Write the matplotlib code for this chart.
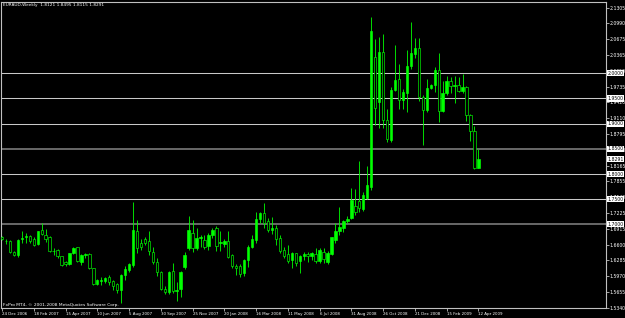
import numpy as np
import matplotlib.pyplot as plt
from matplotlib.patches import Rectangle

# weekly EURAUD bars, first bar = week of 24 Dec 2006
opens = [1.6740, 1.6680, 1.6680, 1.6460, 1.6400, 1.6700, 1.6750, 1.6760, 1.6705, 1.6610,
         1.6880, 1.6790, 1.6740, 1.6480, 1.6500, 1.6370, 1.6250, 1.6215, 1.6430, 1.6545,
         1.6245, 1.6395, 1.6420, 1.6130, 1.5815, 1.5885, 1.5870, 1.5950, 1.5880, 1.5810,
         1.5690, 1.6000, 1.6100, 1.6200, 1.6860, 1.6630, 1.6705, 1.6675, 1.6460, 1.6260,
         1.6060, 1.5710, 1.5650, 1.6080, 1.5680, 1.5720, 1.6150, 1.6530, 1.6825, 1.6530,
         1.6725, 1.6690, 1.6570, 1.6780, 1.6935, 1.6640, 1.6610, 1.6680, 1.6390, 1.6170,
         1.6175, 1.6030, 1.6295, 1.6560, 1.6695, 1.7105, 1.7220, 1.7070, 1.6880, 1.6935,
         1.6720, 1.6490, 1.6410, 1.6295, 1.6425, 1.6265, 1.6370, 1.6410, 1.6370, 1.6415,
         1.6280, 1.6450, 1.6250, 1.6410, 1.6695, 1.6870, 1.6930, 1.7065, 1.7120, 1.7370,
         1.7465, 1.7310, 1.7520, 1.7735, 2.0330, 1.9435, 2.0415, 1.9075, 1.8680, 1.9670,
         1.9880, 1.9460, 1.9615, 2.0145, 2.0390, 2.0495, 1.9520, 1.9275, 1.9715, 1.9770,
         2.0065, 1.9255, 1.9615, 1.9855, 1.9755, 1.9765, 1.9655, 1.9735, 1.9170, 1.8860,
         1.8121]
highs = [1.6770, 1.6700, 1.6690, 1.6480, 1.6700, 1.6860, 1.6830, 1.6790, 1.6740, 1.6870,
         1.7030, 1.6905, 1.6760, 1.6530, 1.6510, 1.6380, 1.6280, 1.6440, 1.6560, 1.6560,
         1.6420, 1.6440, 1.6440, 1.6140, 1.5920, 1.5950, 1.5960, 1.5990, 1.5900, 1.5840,
         1.6010, 1.6170, 1.6230, 1.7450, 1.7090, 1.6700, 1.6740, 1.6860, 1.6550, 1.6330,
         1.6070, 1.5780, 1.6070, 1.6230, 1.5860, 1.6070, 1.6450, 1.7160, 1.7090, 1.6920,
         1.6790, 1.6790, 1.6830, 1.6930, 1.6960, 1.6870, 1.6700, 1.6860, 1.6420, 1.6210,
         1.6210, 1.6310, 1.6590, 1.6780, 1.7250, 1.7240, 1.7420, 1.7120, 1.7150, 1.6990,
         1.6790, 1.6560, 1.6590, 1.6460, 1.6440, 1.6400, 1.6460, 1.6460, 1.6450, 1.6530,
         1.6530, 1.6530, 1.6470, 1.6750, 1.7020, 1.7350, 1.7090, 1.7170, 1.7720, 1.7700,
         1.8260, 1.7640, 1.8160, 2.1120, 2.0690, 2.0730, 2.0780, 1.9300, 1.9720, 2.0560,
         2.0180, 1.9680, 2.0460, 2.1020, 2.0700, 2.0710, 1.9570, 1.9880, 1.9790, 2.0120,
         2.0400, 1.9840, 1.9940, 1.9920, 1.9940, 1.9920, 1.9990, 1.9750, 1.9200, 1.8950,
         1.8495]
lows = [1.6690, 1.6610, 1.6440, 1.6380, 1.6360, 1.6630, 1.6640, 1.6640, 1.6580, 1.6600,
        1.6780, 1.6660, 1.6450, 1.6400, 1.6330, 1.6180, 1.6170, 1.6200, 1.6410, 1.6250,
        1.6200, 1.6340, 1.6120, 1.5800, 1.5790, 1.5800, 1.5840, 1.5800, 1.5700, 1.5640,
        1.5440, 1.5900, 1.6060, 1.6150, 1.6430, 1.6500, 1.6600, 1.6400, 1.6220, 1.5980,
        1.5700, 1.5620, 1.5620, 1.5640, 1.5470, 1.5567, 1.6120, 1.6500, 1.6450, 1.6500,
        1.6550, 1.6520, 1.6500, 1.6720, 1.6480, 1.6480, 1.6560, 1.6330, 1.6130, 1.6000,
        1.5960, 1.5980, 1.6150, 1.6540, 1.6630, 1.7020, 1.6930, 1.6850, 1.6800, 1.6600,
        1.6430, 1.6330, 1.6230, 1.6140, 1.6170, 1.6030, 1.6290, 1.6250, 1.6300, 1.6230,
        1.6230, 1.6240, 1.6210, 1.6390, 1.6630, 1.6790, 1.6840, 1.7020, 1.7100, 1.7190,
        1.7250, 1.7270, 1.7500, 1.7690, 1.8975, 1.8910, 1.8920, 1.8640, 1.8630, 1.9640,
        1.9300, 1.9300, 1.9240, 2.0080, 2.0300, 1.9440, 1.8580, 1.9230, 1.9690, 1.9620,
        1.9040, 1.9230, 1.9570, 1.9600, 1.9400, 1.9620, 1.9600, 1.9060, 1.8660, 1.8090,
        1.8115]
closes = [1.6715, 1.6670, 1.6460, 1.6400, 1.6690, 1.6730, 1.6760, 1.6680, 1.6600, 1.6860,
          1.6800, 1.6710, 1.6480, 1.6470, 1.6365, 1.6200, 1.6210, 1.6430, 1.6530, 1.6265,
          1.6390, 1.6410, 1.6135, 1.5820, 1.5890, 1.5900, 1.5930, 1.5850, 1.5770, 1.5705,
          1.6000, 1.6110, 1.6215, 1.6880, 1.6530, 1.6560, 1.6640, 1.6465, 1.6245, 1.6045,
          1.5720, 1.5650, 1.6060, 1.5670, 1.5700, 1.6060, 1.6395, 1.6890, 1.6530, 1.6725,
          1.6755, 1.6560, 1.6790, 1.6890, 1.6565, 1.6650, 1.6680, 1.6350, 1.6165, 1.6135,
          1.6020, 1.6295, 1.6545, 1.6705, 1.7100, 1.7220, 1.7025, 1.6890, 1.6920, 1.6710,
          1.6480, 1.6380, 1.6265, 1.6425, 1.6230, 1.6380, 1.6405, 1.6370, 1.6425, 1.6280,
          1.6495, 1.6320, 1.6430, 1.6740, 1.6870, 1.6955, 1.7070, 1.7110, 1.7485, 1.7245,
          1.7320, 1.7585, 1.7780, 2.0840, 1.9310, 2.0430, 1.9075, 1.8690, 1.9665, 1.9865,
          1.9460, 1.9635, 2.0145, 2.0395, 2.0495, 1.9525, 1.9275, 1.9715, 1.9765, 2.0065,
          1.9255, 1.9615, 1.9855, 1.9750, 1.9765, 1.9655, 1.9735, 1.9175, 1.8860, 1.8120,
          1.8291]

date_labels = ['24 Dec 2006', '18 Feb 2007', '15 Apr 2007', '10 Jun 2007', '5 Aug 2007',
               '30 Sep 2007', '25 Nov 2007', '20 Jan 2008', '16 Mar 2008', '11 May 2008',
               '6 Jul 2008', '31 Aug 2008', '26 Oct 2008', '21 Dec 2008', '15 Feb 2009',
               '12 Apr 2009']
price_labels = ['2.1305', '2.0990', '2.0675', '2.0365', '2.0050', '1.9735', '1.9420',
                '1.9110', '1.8795', '1.8480', '1.8165', '1.7855', '1.7540', '1.7225',
                '1.6915', '1.6600', '1.6285', '1.5970', '1.5655', '1.5340']
levels = [2.0, 1.95, 1.9, 1.85, 1.8, 1.75, 1.7]
dark_levels = [1.85, 1.7]
last_price = 1.8291

GREEN = '#00ff00'
W, H = 625, 318
px_per_bar = 3.97

fig = plt.figure(figsize=(W / 100, H / 100), dpi=100, facecolor='black')
ax = fig.add_axes([1.5 / W, 10 / H, 604 / W, 306 / H])
ax.set_facecolor('black')

n = len(opens)
x = np.arange(n)
ax.vlines(x, lows, highs, color=GREEN, lw=0.6, zorder=2)
for i in range(n):
    o, c = opens[i], closes[i]
    bull = c >= o
    ax.add_patch(Rectangle((i - 0.3, min(o, c)), 0.6, max(abs(c - o), 0.0004),
                           facecolor=GREEN if bull else 'black', edgecolor=GREEN,
                           lw=0.45, zorder=3))

for lv in levels:
    if lv in dark_levels:
        ax.axhline(lv, color='#7a7a7a', lw=1.2, zorder=1)
    else:
        ax.axhline(lv, color='#c8c8c8', lw=0.75, zorder=1)

left = -0.5 / px_per_bar
ax.set_xlim(left, left + 604 / px_per_bar)
ax.set_ylim(1.5343, 2.1415)

for s in ax.spines.values():
    s.set_color('#c0c0c0')
    s.set_linewidth(0.8)

ax.yaxis.tick_right()
ax.set_yticks([float(p) for p in price_labels])
ax.set_yticklabels(price_labels)
ax.set_xticks(np.arange(len(date_labels)) * 8)
ax.set_xticklabels(date_labels, ha='left')
ax.tick_params(colors='#c0c0c0', labelcolor='white', labelsize=3.3, length=2,
               width=0.6, pad=1)
ax.tick_params(axis='x', labelsize=2.9)

ytr = ax.get_yaxis_transform()
for lv in levels + [last_price]:
    ax.text(1.003, lv, f'{lv:.4f}', transform=ytr, ha='left', va='center',
            color='black', fontsize=3.3, clip_on=False, zorder=6,
            bbox=dict(facecolor='white', edgecolor='none', pad=0.4))

ax.text(0.002, 0.996, 'EURAUD,Weekly  1.8121 1.8495 1.8115 1.8291',
        transform=ax.transAxes, ha='left', va='top', color='white', fontsize=3.1)
ax.text(0.003, 0.004, 'FxPro MT4, \u00a9 2001-2008 MetaQuotes Software Corp.',
        transform=ax.transAxes, ha='left', va='bottom', color='white', fontsize=3.2)

fig.savefig('out.png', dpi=100, facecolor='black')
